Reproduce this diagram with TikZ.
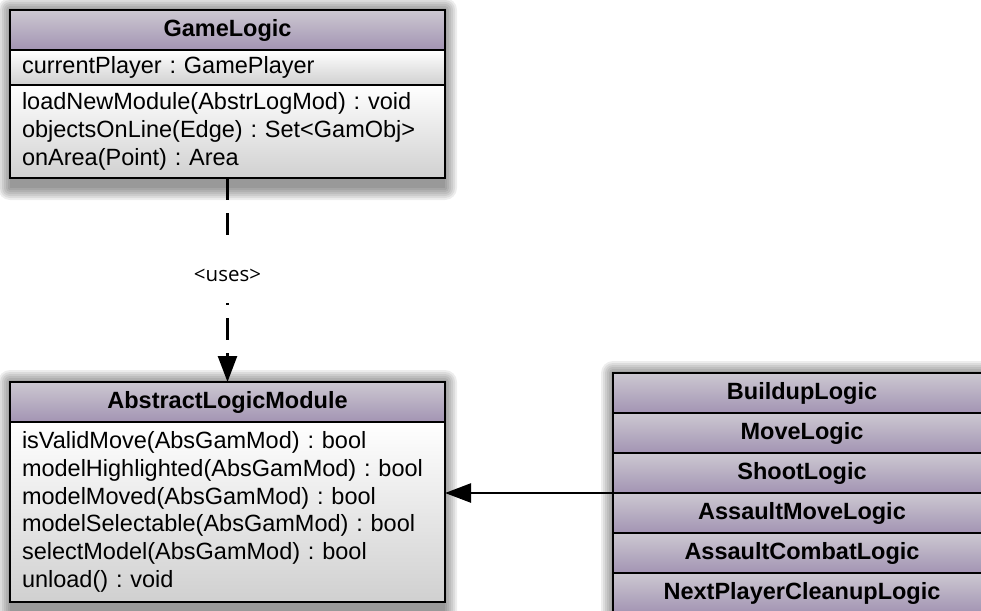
\documentclass[tikz,border=0pt]{standalone}
\usepackage{fontspec}
\setmainfont{Liberation Sans}
\newfontfamily\usesfont{Open Sans}
\usetikzlibrary{positioning,arrows.meta,fit,backgrounds}
\frenchspacing

\definecolor{headtop}{HTML}{CCC8D1}
\definecolor{headbot}{HTML}{A394B3}
\definecolor{bodybot}{HTML}{D0D0D0}

\begin{document}
\begin{tikzpicture}[x=1pt,y=-1pt,
  node distance=0pt,
  every node/.style={outer sep=0pt},
  head/.style={draw,line width=2.5pt,top color=headtop,bottom color=headbot,
    font=\fontsize{23.5pt}{27.7pt}\selectfont\bfseries,align=center,
    minimum width=435pt,minimum height=40pt,inner sep=0pt},
  body/.style={draw,line width=2.5pt,top color=white,bottom color=bodybot,
    font=\fontsize{23.5pt}{27.7pt}\selectfont,align=left,
    text width=411pt,inner xsep=12pt,inner ysep=0pt},
  stackbox/.style={head,minimum width=378pt},
  shadelayer/.style={fill=black,fill opacity=0.07},
  uses/.style={fill=white,font=\usesfont\fontsize{20.5pt}{24pt}\selectfont,
    minimum height=56pt,inner xsep=2pt,inner ysep=0pt},
  arrow/.style={-{Triangle[length=26pt,width=19pt]},line width=2.5pt}
]
\path[use as bounding box,clip] (0,0) rectangle (981,610);
% GameLogic
\node[head,anchor=north west] (gl) at (10,10) {GameLogic};
\node[body,below=of gl,minimum height=35pt] (glattr) {currentPlayer : GamePlayer};
\node[body,below=of glattr,minimum height=93pt] (glops)
  {loadNewModule(AbstrLogMod) : void\\objectsOnLine(Edge) : Set<GamObj>\\onArea(Point) : Area};
% AbstractLogicModule
\node[head,anchor=north west] (alm) at (10,382) {AbstractLogicModule};
\node[body,below=of alm,minimum height=180pt] (almops)
  {isValidMove(AbsGamMod) : bool\\modelHighlighted(AbsGamMod) : bool\\modelMoved(AbsGamMod) : bool\\modelSelectable(AbsGamMod) : bool\\selectModel(AbsGamMod) : bool\\unload() : void};
% logic modules
\node[stackbox,anchor=north west] (buildup) at (613,373) {BuildupLogic};
\node[stackbox,below=of buildup] (move) {MoveLogic};
\node[stackbox,below=of move] (shoot) {ShootLogic};
\node[stackbox,below=of shoot] (amove) {AssaultMoveLogic};
\node[stackbox,below=of amove] (acombat) {AssaultCombatLogic};
\node[stackbox,below=of acombat] (cleanup) {NextPlayerCleanupLogic};
% shadows
\begin{scope}[on background layer]
\node[inner sep=0pt,fit=(gl)(glops)] (glshade) {};
\node[inner sep=0pt,fit=(alm)(almops)] (almshade) {};
\node[inner sep=0pt,fit=(buildup)(cleanup)] (stackshade) {};
\foreach \b in {glshade,almshade,stackshade}
  \foreach \r [evaluate=\r as \up using \r-10, evaluate=\r as \dn using -\r-10] in {0,2,...,12}
    \fill[shadelayer,rounded corners=\r pt] ([xshift=-\r pt,yshift=\up pt]\b.north west) rectangle ([xshift=\r pt,yshift=\dn pt]\b.south east);
\end{scope}
\draw[arrow,dash pattern=on 22pt off 13pt] (glops.south) -- node[uses,pos=0.477] (useslbl) {<uses>} (alm.north);
\draw[arrow] (shoot.south west) -- (shoot.south west -| almops.east);
\end{tikzpicture}
\end{document}
